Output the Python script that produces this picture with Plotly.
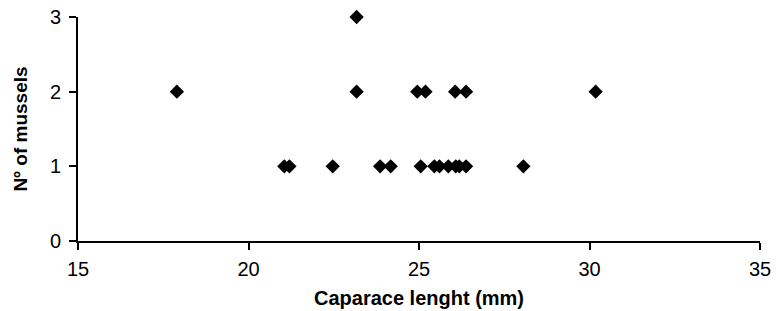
import plotly.graph_objects as go

carapace_length = [17.9, 23.17, 24.95, 25.19, 26.06, 26.38, 30.18, 23.17,
                   21.05, 21.2, 22.47, 23.86, 24.17, 25.05, 25.45, 25.6,
                   25.86, 26.08, 26.18, 26.38, 28.06]
n_mussels = [2, 2, 2, 2, 2, 2, 2, 3,
             1, 1, 1, 1, 1, 1, 1, 1,
             1, 1, 1, 1, 1]

x_ticks = [15, 20, 25, 30, 35]
y_ticks = [0, 1, 2, 3]

fig = go.Figure(go.Scatter(
    x=carapace_length, y=n_mussels, mode="markers",
    marker=dict(symbol="diamond", size=11, color="black"),
    cliponaxis=False, showlegend=False,
))

font = "Liberation Sans, Arial, sans-serif"
fig.update_layout(
    width=784, height=311,
    margin=dict(l=78, r=24, t=17, b=70, autoexpand=False),
    paper_bgcolor="white", plot_bgcolor="white",
    font=dict(family=font, size=20, color="black"),
)
fig.update_xaxes(
    range=[15, 35], tickvals=x_ticks, ticks="outside", ticklen=7,
    tickwidth=2, tickcolor="black", showline=True, linecolor="black",
    linewidth=2, showgrid=False, zeroline=False, automargin=False,
    tickfont=dict(size=20), ticklabeloverflow="allow", ticklabelstandoff=2,
    title=dict(text="<b>Caparace lenght (mm)</b>", font=dict(size=20), standoff=12),
)
fig.update_yaxes(
    range=[0, 3], tickvals=y_ticks, ticks="outside", ticklen=7,
    tickwidth=2, tickcolor="black", showline=True, linecolor="black",
    linewidth=2, showgrid=False, zeroline=False, automargin=False,
    tickfont=dict(size=20), ticklabeloverflow="allow", ticklabelstandoff=4,
    title=dict(text="<b>Nº of mussels</b>", font=dict(size=19), standoff=17),
)
fig.write_html(
    "out.html",
    config={"displayModeBar": False},
    post_script="document.body.style.margin='0';document.body.style.overflow='hidden';",
)
